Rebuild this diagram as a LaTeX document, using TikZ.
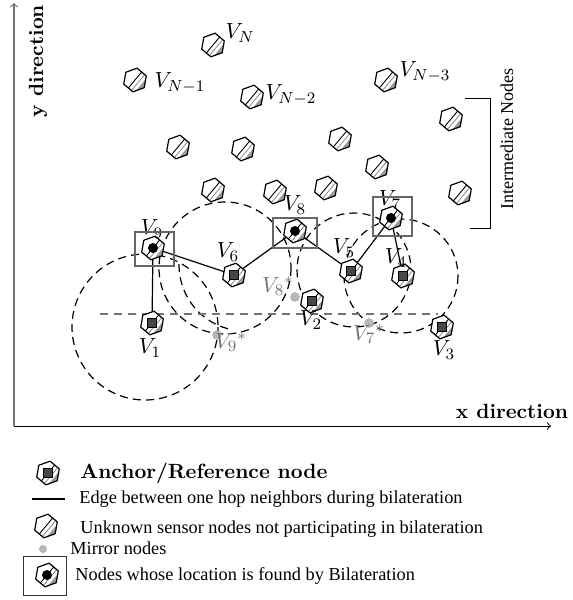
\documentclass[tikz,border=0pt]{standalone}
\usepackage{fontspec}
\newfontfamily\timesfont{Liberation Serif}
\usetikzlibrary{calc}
\tikzset{
  hexp/.style={insert path={(20:6pt) -- (80:6pt) -- (140:6pt) -- (200:6pt) -- (260:6pt) -- (320:6pt) -- cycle}},
  pics/hexbase/.style={code={
    \path[fill=white, hexp];
    \begin{scope}
      \path[clip, hexp];
      \fill[black!40] ($(-40:3.8pt)+(50:9pt)$) -- ($(-40:3.8pt)+(230:9pt)$) -- ($(-40:9pt)+(230:9pt)$) -- ($(-40:9pt)+(50:9pt)$) -- cycle;
      \draw[black!50, line width=0.35pt] ($(-40:2pt)+(50:9pt)$) -- ($(-40:2pt)+(230:9pt)$);
    \end{scope}
    \draw[line width=0.45pt] (230:5.2pt) -- (50:5.2pt);
    \draw[line width=0.6pt, line join=round, hexp];
  }},
  pics/unknown/.style={code={\pic{hexbase};}},
  pics/anchor/.style={code={
    \pic{hexbase};
    \filldraw[fill=black!72, draw=black, line width=0.45pt] (-2.2pt,-2.2pt) rectangle (2.2pt,2.2pt);
  }},
  pics/found/.style={code={
    \pic{hexbase};
    \fill[black] (0pt,0pt) circle (2.5pt);
  }},
}
\begin{document}
\begin{tikzpicture}[x=0.5pt,y=-0.5pt,
  circ/.style={dash pattern=on 4pt off 2.6pt, line width=0.6pt},
  edge/.style={line width=0.6pt},
  lbl/.style={font=\fontsize{11}{13}\selectfont, inner sep=0pt},
  mlbl/.style={lbl, text=black!55},
  mirror/.style={circle, fill=black!28, draw=black!32, line width=0.3pt, minimum size=4.4pt, inner sep=0pt},
  bbox/.style={draw=black!60, line width=0.6pt},
  legtxt/.style={font=\timesfont\fontsize{9.15}{11}\selectfont, anchor=west, inner sep=0pt},
  boldtxt/.style={font=\bfseries\fontsize{10.3}{12}\selectfont, inner sep=0pt},
]
\useasboundingbox (0,0) rectangle (573,600);

% axes
\coordinate (o) at (14,426);
\coordinate (ytop) at (14,3);
\coordinate (xend) at (551,426);
\draw[black!55, line width=0.6pt, ->] (o) -- (ytop);
\draw[black, line width=0.5pt, ->] (o) -- (xend);
\node[boldtxt, rotate=90] (ylab) at (38,61) {y direction};
\node[boldtxt] (xlab) at (512,411) {x direction};

% bracket
\coordinate (br1) at (465,98);
\coordinate (br2) at (490,98);
\coordinate (br3) at (490,228);
\coordinate (br4) at (470,228);
\draw[line width=0.5pt] (br1) -- (br2) -- (br3) -- (br4);
\node[font=\timesfont\fontsize{9}{11}\selectfont, rotate=90, inner sep=0pt] (inter) at (507,139) {Intermediate Nodes};

% node positions
\coordinate (vN) at (213,45);
\coordinate (vN1) at (135,80);
\coordinate (vN2) at (252,97);
\coordinate (vN3) at (386,80);
\coordinate (u1) at (178,147);
\coordinate (u2) at (243,149);
\coordinate (u3) at (340,139);
\coordinate (u4) at (451,119);
\coordinate (u5) at (377,167);
\coordinate (u6) at (326,188);
\coordinate (u7) at (213,190);
\coordinate (u8) at (275,192);
\coordinate (u9) at (460,193);
\coordinate (v1) at (152,323);
\coordinate (v2) at (312,301);
\coordinate (v3) at (442,327);
\coordinate (v4) at (403,276);
\coordinate (v5) at (351,271);
\coordinate (v6) at (234,275);
\coordinate (v9) at (153,248);
\coordinate (v8) at (295,231);
\coordinate (v7) at (391,218);

% dashed circles
\draw[circ] (145,327) circle [radius=73];
\draw[circ] (225,268) circle [radius=66];
\draw[circ] ([shift={(105:66)}]245,265) arc[start angle=105, end angle=183, radius=66];
\draw[circ] (354,270) circle [radius=57];
\draw[circ] (401,276) circle [radius=57];

% gray dashed horizontal line
\coordinate (h1) at (100,314);
\coordinate (h2) at (438,314);
\draw[black!55, dash pattern=on 4pt off 3pt, line width=0.6pt] (h1) -- (h2);

% edges
\draw[edge] (v9) -- (v1);
\draw[edge] (v9) -- (v6);
\draw[edge] (v6) -- (v8);
\draw[edge] (v8) -- (v5);
\draw[edge] (v5) -- (v7);
\draw[edge] (v7) -- (v4);

% unknown nodes
\foreach \n in {vN,vN1,vN2,vN3,u1,u2,u3,u4,u5,u6,u7,u8,u9} {\pic at (\n) {unknown};}
% anchors
\foreach \n in {v1,v2,v3,v4,v5,v6} {\pic at (\n) {anchor};}
% found
\foreach \n in {v9,v8,v7} {\pic at (\n) {found};}

% mirror nodes
\node[mirror] (m8) at (295,297) {};
\node[mirror] (m9) at (217,335) {};
\node[mirror] (m7) at (369,323) {};

% labels
\node[lbl] (lN) at (240,33) {$V_N$};
\node[lbl] (lN1) at (180,83) {$V_{N-1}$};
\node[lbl] (lN2) at (291,95) {$V_{N-2}$};
\node[lbl] (lN3) at (425,72) {$V_{N-3}$};
\node[lbl] (l9) at (152,229) {$V_9$};
\node[lbl] (l8) at (295,205) {$V_8$};
\node[lbl] (l7) at (390,200) {$V_7$};
\node[lbl] (l6) at (228,252) {$V_6$};
\node[lbl] (l5) at (344,248) {$V_5$};
\node[lbl] (l4) at (396,258) {$V_4$};
\node[lbl] (l1) at (150,348) {$V_1$};
\node[lbl] (l2) at (311,320) {$V_2$};
\node[lbl] (l3) at (444,350) {$V_3$};
\node[mlbl] (l8s) at (278,286) {$V_8{}^*$};
\node[mlbl] (l9s) at (231,342) {$V_9{}^*$};
\node[mlbl] (l7s) at (369,334) {$V_7{}^*$};

% bilateration boxes
\draw[bbox] (135,232) rectangle (174,266);
\draw[bbox] (273,218) rectangle (317,248);
\draw[bbox] (373,197) rectangle (412,236);

% legend
\coordinate (g1) at (48,473);
\pic at (g1) {anchor};
\node[boldtxt, anchor=west] (t1) at (80,473) {Anchor/Reference node};
\coordinate (g2a) at (32,499);
\coordinate (g2b) at (65,499);
\draw[edge] (g2a) -- (g2b);
\node[legtxt] (t2) at (79,499) {Edge between one hop neighbors during bilateration};
\coordinate (g3) at (46,526);
\pic at (g3) {unknown};
\node[legtxt] (t3) at (80,529) {Unknown sensor nodes not participating in bilateration};
\node[mirror, minimum size=3.6pt] (g4) at (43,549) {};
\node[legtxt] (t4) at (70,548) {Mirror nodes};
\draw[draw=black!80, line width=0.5pt] (23,556) rectangle (66,595);
\coordinate (g5) at (47,575);
\pic at (g5) {found};
\node[legtxt] (t5) at (75,576) {Nodes whose location is found by Bilateration};
\end{tikzpicture}
\end{document}
